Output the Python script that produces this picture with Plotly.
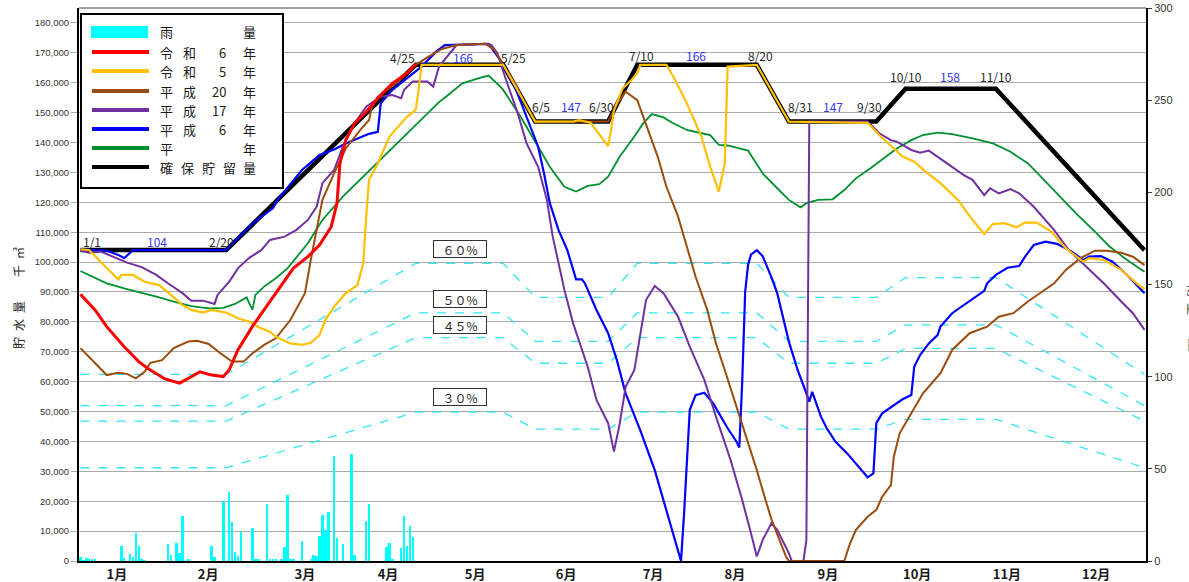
import plotly.graph_objects as go

# ---------------- data ----------------
month_pos = [13.5, 44.8, 78, 106.5, 136.4, 167.6, 197.4, 225.5, 257.4, 288, 318.8, 349.4]
month_labels = ["1月", "2月", "3月", "4月", "5月", "6月", "7月", "8月", "9月", "10月", "11月", "12月"]

left_ticks = list(range(0, 180001, 10000))
right_ticks = [0, 50, 100, 150, 200, 250, 300]

# rainfall (mm) – day of year
rain_days = [1, 2, 3, 4, 5, 6, 15, 16, 18, 19, 20, 21, 22, 23, 31, 32, 34, 35, 36, 38, 46, 47, 50, 52, 53, 54,
             55, 56, 60, 61, 62, 65, 66, 67, 68, 70, 71, 72, 73, 74, 77, 80, 81, 82, 83, 84, 85, 86, 88, 89,
             91, 94, 95, 99, 100, 106, 107, 108, 111, 112, 113, 114, 115]
rain_mm = [2, 0.5, 1.5, 1, 1, 1, 8.3, 1.5, 4, 2, 15, 8, 1, 0.5, 9, 3, 9.5, 4.5, 24.3, 1, 8, 2, 32.4, 37.5, 21, 5,
           2.5, 15.7, 18, 1, 1, 30.8, 1, 1, 1, 1, 7.7, 35.6, 1, 1, 11, 1, 3, 2.5, 13.5, 24.8, 16.7, 26.6, 57, 12.6,
           9.4, 58, 3.2, 21.6, 30.8, 7.4, 9.5, 1, 7, 24.3, 8, 19, 12.8]

# 確保貯留量 (break points)
reserve_days = [1, 51, 116, 146, 157, 182, 192, 233, 244, 274, 284, 315, 366]
reserve_vals = [104000, 104000, 166000, 166000, 147000, 147000, 166000, 166000, 147000, 147000, 158000, 158000, 104000]
pct60_vals = [62400, 62400, 99600, 99600, 88200, 88200, 99600, 99600, 88200, 88200, 94800, 94800, 62400]
pct50_vals = [52000, 52000, 83000, 83000, 73500, 73500, 83000, 83000, 73500, 73500, 79000, 79000, 52000]
pct45_vals = [46800, 46800, 74700, 74700, 66150, 66150, 74700, 74700, 66150, 66150, 71100, 71100, 46800]
pct30_vals = [31200, 31200, 49800, 49800, 44100, 44100, 49800, 49800, 44100, 44100, 47400, 47400, 31200]

# 令和6年
r6_days = [1, 6, 10, 16, 21, 24, 30, 35, 38, 42, 46, 50, 52, 55, 60, 64, 68, 74, 79, 83, 87, 89, 90, 92, 95, 99,
           104, 108, 113, 116]
r6_vals = [89200, 84000, 78400, 71700, 66700, 64500, 60900, 59500, 61100, 63300, 62200, 61700, 63900, 70600,
           78500, 84000, 89500, 97900, 101800, 105700, 111800, 119700, 133000, 140800, 146400, 150300, 155900,
           159800, 163200, 166300]

# 令和5年
r5_days = [1, 4, 9, 14, 15, 19, 23, 28, 32, 36, 39, 43, 46, 51, 55, 59, 63, 66, 68, 73, 77, 80, 83, 85, 88, 92,
           96, 98, 99, 100, 103, 107, 113, 116, 117, 118, 146, 152, 157, 170, 172, 176, 179, 182, 183, 184, 187,
           190, 192, 193, 202, 205, 209, 214, 217, 220, 222, 223, 233, 244, 271, 275, 280, 283, 287, 291, 296,
           302, 307, 311, 314, 318, 322, 325, 329, 334, 339, 345, 347, 352, 358, 364, 366]
r5_vals = [104300, 104000, 99000, 94200, 95700, 95700, 93400, 92300, 89000, 85600, 84000, 83100, 84000, 83100,
           81200, 80000, 77800, 76700, 75000, 72800, 72300, 73000, 75600, 80600, 85100, 89600, 92300, 99600,
           115200, 127500, 133000, 142000, 148600, 150900, 157600, 166000, 166000, 155600, 147000, 147000,
           147500, 146600, 142500, 138800, 144200, 150900, 158100, 160900, 163200, 166000, 166000, 160900,
           153100, 142000, 131900, 123600, 133000, 165400, 166000, 147000, 146600, 142500, 138000, 135300,
           133600, 130200, 126400, 120800, 114100, 109400, 112700, 113000, 111600, 113200, 113200, 110200,
           104600, 100100, 101300, 100700, 97400, 92300, 91000]

# 平成20年
h20_days = [1, 5, 10, 14, 17, 20, 23, 25, 29, 33, 38, 41, 45, 49, 53, 57, 60, 64, 68, 73, 78, 80, 82, 84, 88, 92,
            97, 100, 101, 103, 110, 116, 120, 125, 130, 140, 143, 146, 150, 153, 157, 182, 185, 188, 192, 195,
            199, 202, 206, 209, 212, 216, 219, 222, 226, 230, 233, 236, 238, 240, 243, 244, 263, 265, 267, 271,
            274, 276, 279, 280, 282, 286, 290, 296, 300, 306, 312, 316, 321, 326, 330, 335, 339, 344, 349, 353,
            358, 362, 366]
h20_vals = [71200, 67200, 62200, 63000, 62600, 61100, 63300, 66300, 67200, 71200, 73400, 73700, 72600, 69500,
            66700, 66700, 69500, 72300, 74500, 80600, 89600, 100700, 110700, 120800, 129700, 138000, 144200,
            147500, 152000, 155300, 160300, 166000, 168500, 171300, 172600, 173000, 171000, 166000, 160000,
            154000, 147000, 147000, 152700, 157000, 154200, 146400, 135300, 125200, 115200, 105200, 95100,
            84000, 72800, 63900, 52000, 40000, 30400, 20400, 14000, 9000, 1500, 0, 0, 5900, 10400, 14800,
            17100, 21500, 25400, 34900, 42700, 49400, 56100, 62800, 70600, 76200, 78400, 81700, 82900, 86800,
            89600, 92900, 97400, 101300, 103800, 103800, 103100, 101800, 99000]

# 平成17年
h17_days = [1, 4, 8, 13, 17, 22, 27, 31, 36, 39, 43, 47, 48, 52, 55, 59, 63, 66, 71, 75, 79, 82, 84, 88, 91, 95,
            99, 104, 108, 111, 112, 115, 120, 122, 124, 130, 140, 142, 144, 147, 151, 154, 158, 161, 163, 167,
            170, 175, 178, 182, 184, 186, 188, 191, 193, 195, 198, 201, 206, 210, 215, 219, 224, 228, 231, 233,
            235, 238, 240, 244, 245, 249, 250, 251, 271, 275, 279, 281, 286, 289, 292, 298, 304, 307, 311, 313,
            316, 320, 323, 328, 335, 340, 346, 352, 358, 362, 366]
h17_vals = [103900, 103100, 103500, 101300, 99800, 98300, 95700, 92900, 89600, 87100, 87100, 86000, 89000, 93400,
            97900, 101500, 104000, 107400, 108500, 110700, 114100, 118500, 126400, 130800, 138600, 146400,
            152000, 155300, 155900, 154800, 157600, 160400, 160400, 158700, 165400, 172600, 173000, 172600,
            169900, 160900, 149800, 139800, 131900, 120800, 108500, 90700, 79500, 65000, 53900, 46100, 36600,
            46100, 58300, 63900, 76200, 87300, 92000, 89600, 81700, 71700, 60600, 48300, 33800, 20400, 9300,
            1500, 7000, 12600, 10400, 2600, 0, 0, 7000, 147000, 147000, 143100, 140800, 140300, 137500, 136600,
            137300, 133300, 129100, 127500, 122400, 124700, 123000, 124400, 123000, 118500, 110700, 104000,
            98500, 92900, 86800, 82900, 77300]

# 平成6年
h6_days = [1, 10, 14, 16, 19, 51, 60, 67, 69, 77, 83, 88, 92, 96, 100, 103, 104, 108, 113, 118, 123, 126, 141,
           145, 150, 154, 158, 160, 162, 165, 168, 171, 173, 174, 178, 182, 185, 188, 193, 198, 202, 205, 206,
           207, 208, 209, 210, 212, 215, 218, 223, 226, 227, 228, 229, 230, 231, 233, 235, 238, 240, 244, 247,
           250, 251, 252, 255, 257, 260, 264, 268, 271, 273, 274, 276, 280, 283, 286, 287, 289, 292, 295, 296,
           300, 305, 311, 312, 315, 319, 323, 325, 328, 332, 336, 341, 345, 347, 351, 355, 360, 366]
h6_vals = [104300, 103800, 102400, 101300, 104000, 104000, 113000, 118000, 121300, 130800, 135800, 137700,
           139700, 141400, 142900, 143600, 153100, 157600, 161500, 165400, 170400, 172600, 173000, 167600,
           158700, 148600, 138600, 129700, 119700, 110700, 104000, 94200, 94200, 93000, 84000, 76200, 67200,
           56100, 43800, 30400, 17100, 7000, 3000, 0, 15000, 34900, 50500, 55500, 56300, 52800, 44400, 40000,
           38000, 60000, 90000, 99000, 102500, 104000, 102000, 95000, 89600, 73400, 63900, 56100, 53300, 56600,
           48300, 44400, 39900, 36000, 31500, 28000, 29300, 46100, 49400, 52200, 54100, 55500, 65000, 68900,
           72800, 75600, 78400, 82900, 86400, 90400, 92900, 95700, 98100, 98700, 101800, 105700, 106800,
           106100, 103500, 100700, 101800, 102000, 100100, 95700, 89600]

# 平年
avg_days = [1, 5, 10, 16, 22, 28, 33, 39, 45, 50, 54, 58, 59, 60, 61, 64, 68, 72, 79, 84, 91, 98, 105, 112, 119,
            124, 127, 132, 138, 141, 145, 146, 152, 158, 162, 167, 171, 175, 179, 182, 186, 191, 194, 197, 201,
            204, 209, 214, 217, 220, 223, 227, 230, 232, 235, 240, 244, 248, 250, 254, 259, 263, 267, 272, 276,
            281, 286, 290, 295, 300, 307, 314, 320, 326, 331, 337, 343, 349, 354, 360, 366]
avg_vals = [97000, 95100, 92900, 91200, 89800, 88200, 86800, 85300, 84500, 84700, 86000, 88200, 86000, 84000,
            89000, 91800, 94600, 97900, 106300, 114100, 121900, 128600, 135300, 142000, 148600, 153500, 155800,
            159800, 161600, 162400, 158700, 157600, 148600, 138600, 131900, 125200, 123600, 125500, 126100,
            128600, 135300, 142000, 146400, 149500, 148400, 146600, 144200, 143100, 142500, 139200, 139000,
            138000, 137300, 134200, 129700, 124700, 120800, 118300, 119700, 120800, 121000, 124100, 128000,
            131400, 134200, 138000, 140800, 142500, 143300, 142800, 141400, 139700, 136900, 133000, 128000,
            121900, 115800, 110200, 105200, 100700, 96800]

# ---------------- styling ----------------
W, H = 1189, 582
L, R, T, B = 79, 1146, 8, 561
CJK = "Noto Sans CJK JP"
NUM = "Liberation Sans, Arial"
C_RAIN = "#00FFFF"
C_R6 = "#FF0000"
C_R5 = "#FFC000"
C_H20 = "#9C4B0E"
C_H17 = "#7030A0"
C_H6 = "#0000FF"
C_AVG = "#009030"
C_RES = "#000000"
C_PCT = "#33E6F2"


def pxx(x):
    return (x - L) / (R - L)


def pxy(y):
    return (B - y) / (B - T)


fig = go.Figure()

fig.add_trace(go.Bar(x=rain_days, y=rain_mm, yaxis="y", marker=dict(color=C_RAIN, line=dict(width=0)),
                     width=0.85, showlegend=False, name="雨量"))

for vals in (pct60_vals, pct50_vals, pct45_vals, pct30_vals):
    fig.add_trace(go.Scatter(x=reserve_days, y=vals, yaxis="y2", mode="lines",
                             line=dict(color=C_PCT, width=1.3, dash="dash"), showlegend=False, hoverinfo="skip"))

series = [
    (reserve_days, reserve_vals, C_RES, 4.5, "確保貯留量"),
    (avg_days, avg_vals, C_AVG, 1.8, "平年"),
    (h6_days, h6_vals, C_H6, 2.2, "平成6年"),
    (h17_days, h17_vals, C_H17, 2.0, "平成17年"),
    (h20_days, h20_vals, C_H20, 2.0, "平成20年"),
    (r5_days, r5_vals, C_R5, 2.2, "令和5年"),
    (r6_days, r6_vals, C_R6, 3.0, "令和6年"),
]
for d, v, c, w, n in series:
    fig.add_trace(go.Scatter(x=d, y=v, yaxis="y2", mode="lines", line=dict(color=c, width=w),
                             name=n, showlegend=False))

annotations = []

# date / value labels along 確保貯留量
labels = [
    ("1/1", 92, 241, False), ("104", 157, 241, True), ("2/20", 221, 241, False),
    ("4/25", 402, 57, False), ("166", 463, 57, True), ("5/25", 513, 57, False),
    ("6/5", 541, 107, False), ("147", 571, 107, True), ("6/30", 601, 107, False),
    ("7/10", 641, 56, False), ("166", 696, 56, True), ("8/20", 760, 56, False),
    ("8/31", 800, 107, False), ("147", 833, 107, True), ("9/30", 869, 107, False),
    ("10/10", 906, 77, False), ("158", 950, 77, True), ("11/10", 996, 77, False),
]
for t, x, y, blue in labels:
    annotations.append(dict(text=t, xref="paper", yref="paper", x=pxx(x), y=pxy(y), showarrow=False,
                            xanchor="center", yanchor="middle",
                            font=dict(family=CJK, size=12, color="#3535F5" if blue else "#262626")))

# percentage boxes
for t, y in (("６０%", 249), ("５０%", 298.5), ("４５%", 325), ("３０%", 397)):
    annotations.append(dict(text=t, xref="paper", yref="paper", x=pxx(459.5), y=pxy(y), showarrow=False,
                            xanchor="center", yanchor="middle", width=50, height=14, borderpad=1,
                            bordercolor="#303030", borderwidth=1, bgcolor="white",
                            font=dict(family=CJK, size=12, color="#262626")))

# axis titles
annotations.append(dict(text="貯\u2002水\u2002量\u2003\u2003千\u2002㎥", xref="paper", yref="paper",
                        x=pxx(18), y=pxy(298), showarrow=False, textangle=-90,
                        xanchor="center", yanchor="middle", font=dict(family=CJK, size=12, color="#262626")))
annotations.append(dict(text="雨\u2002量\u2003\u2003㎜", xref="paper", yref="paper",
                        x=pxx(1193), y=pxy(318), showarrow=False, textangle=90,
                        xanchor="center", yanchor="middle", font=dict(family=CJK, size=12, color="#262626")))

# manual legend
shapes = [
    dict(type="line", xref="paper", yref="paper", x0=0, x1=1, y0=1, y1=1, line=dict(color="#A0A0A0", width=2)),
    dict(type="rect", xref="paper", yref="paper", x0=pxx(81), x1=pxx(283), y0=pxy(188), y1=pxy(14),
         line=dict(color="black", width=2), fillcolor="white", layer="above"),
    dict(type="rect", xref="paper", yref="paper", x0=pxx(91), x1=pxx(148), y0=pxy(38), y1=pxy(26),
         line=dict(width=0), fillcolor=C_RAIN, layer="above"),
]
legend_rows = [
    (52, C_R6, ["令", "和", "6", "年"]),
    (71, C_R5, ["令", "和", "5", "年"]),
    (91, C_H20, ["平", "成", "20", "年"]),
    (110, C_H17, ["平", "成", "17", "年"]),
    (129, C_H6, ["平", "成", "6", "年"]),
    (148, C_AVG, ["平", "", "", "年"]),
    (167, C_RES, None),
]
for y, c, parts in legend_rows:
    shapes.append(dict(type="line", xref="paper", yref="paper", x0=pxx(92), x1=pxx(149), y0=pxy(y), y1=pxy(y),
                       line=dict(color=c, width=4), layer="above"))

leg_font = dict(family=CJK, size=13, color="#1a1a1a")


def leg_text(t, x, y, anchor="center"):
    annotations.append(dict(text=t, xref="paper", yref="paper", x=pxx(x), y=pxy(y), showarrow=False,
                            xanchor=anchor, yanchor="middle", font=leg_font))


leg_text("雨", 166, 32)
leg_text("量", 249, 32)
for y, c, parts in legend_rows:
    if parts is None:
        for ch, x in zip("確保貯留量", (166, 187.5, 208, 229, 249)):
            leg_text(ch, x, y)
        continue
    a, b, n, e = parts
    if a:
        leg_text(a, 166, y)
    if b:
        leg_text(b, 189, y)
    if n:
        leg_text(n, 228, y, "right")
    leg_text(e, 249, y)

fig.update_layout(
    template="none",
    width=W, height=H,
    margin=dict(l=L, r=W - R, t=T, b=H - B, pad=0),
    paper_bgcolor="white", plot_bgcolor="white",
    showlegend=False,
    bargap=0,
    xaxis=dict(range=[0.5, 366.5], tickmode="array", tickvals=month_pos, ticktext=month_labels,
               tickfont=dict(family=CJK, size=13, color="#1a1a1a", weight="bold"),
               showgrid=False, zeroline=False, showline=True, linecolor="black", linewidth=2,
               ticks="", automargin=False),
    yaxis=dict(range=[0, 300], side="right", tickmode="array", tickvals=right_ticks,
               showgrid=False, zeroline=False, showline=True, linecolor="black", linewidth=2,
               ticks="outside", ticklen=4, tickcolor="#404040",
               tickfont=dict(family=NUM, size=11, color="#333333"),
               automargin=False),
    yaxis2=dict(range=[0, 185000], overlaying="y", side="left", tickmode="array", tickvals=left_ticks,
                tickformat=",", showgrid=True, gridcolor="#AAAAAA", gridwidth=1, zeroline=False,
                showline=True, linecolor="black", linewidth=2, ticks="outside", ticklen=6,
                tickcolor="#AAAAAA",
                tickfont=dict(family=NUM, size=9.5, color="#333333"),
                automargin=False),
    annotations=annotations,
    shapes=shapes,
)

fig.write_html("out.html", config={"displayModeBar": False},
               post_script="document.body.style.margin='0px';")
